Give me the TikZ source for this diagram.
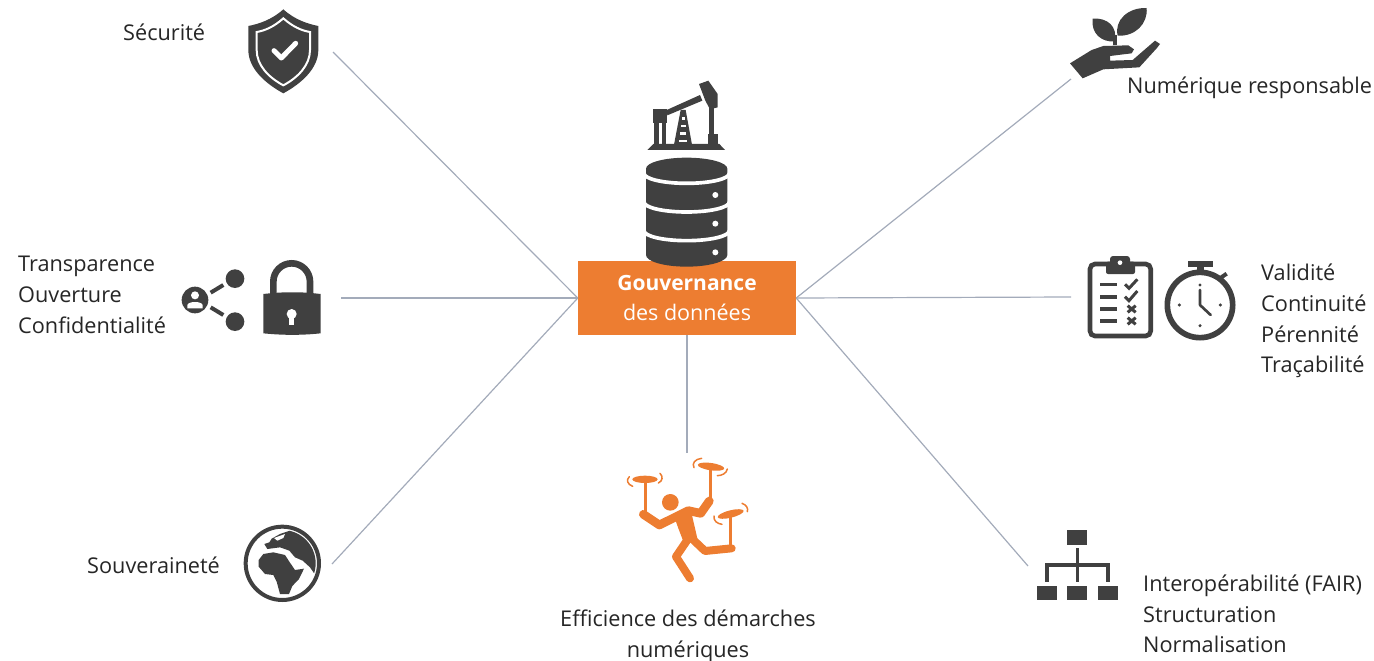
\documentclass[tikz,border=0pt]{standalone}
\usepackage{fontspec}
\setmainfont{Open Sans}
\definecolor{ink}{HTML}{404040}
\definecolor{txt}{HTML}{262626}
\definecolor{org}{HTML}{ED7D31}
\definecolor{wire}{HTML}{A3ABBA}
\tikzset{
  z/.style 2 args={shift={(#1,#2)},x=0.33333pt,y=-0.33333pt},
  wirel/.style={draw=wire,line width=1.2pt},
  lab/.style={text=txt,font=\fontsize{21.7}{30.7}\selectfont,align=left,inner sep=0pt,anchor=west},
  il/.style={draw=ink,line width=#1*0.3333pt},
  wl/.style={draw=white,line width=#1*0.3333pt},
  ol/.style={draw=org,line width=#1*0.3333pt,line cap=round,line join=round},
  sw/.style={draw=org,line width=1.5pt,line cap=round}
}
\begin{document}
\begin{tikzpicture}[x=1pt,y=-1pt]
\useasboundingbox (0,0) rectangle (1374,661);
% central box
\node[fill=org,minimum width=218pt,minimum height=74pt,inner sep=0pt,text=white,align=center,
  font=\fontsize{21.5}{30.5}\selectfont] (gov) at (687,298) {{\fontsize{21}{30.5}\selectfont\bfseries Gouvernance}\\des données};
% connector ends
\coordinate (esec) at (333,52);
\coordinate (etra) at (341,298);
\coordinate (esou) at (332,564);
\coordinate (enum) at (1071,79);
\coordinate (eval) at (1071,297);
\coordinate (eint) at (1028,566);
\coordinate (eeff) at (687,453);
\draw[wirel] (gov.west) -- (esec);
\draw[wirel] (gov.west) -- (etra);
\draw[wirel] (gov.west) -- (esou);
\draw[wirel] (gov.east) -- (enum);
\draw[wirel] (gov.east) -- (eval);
\draw[wirel] (gov.east) -- (eint);
\draw[wirel] (gov.south) -- (eeff);
% labels
\node[lab] (l1) at (123,32) {Sécurité};
\node[lab] (l2) at (18,295) {Transparence\\Ouverture\\Confidentialité};
\node[lab] (l3) at (87,565) {Souveraineté};
\node[lab] (l4) at (1127,87.5) {Numérique responsable};
\node[lab] (l5) at (1261,321) {Validité\\Continuité\\Pérennité\\Traçabilité};
\node[lab] (l6) at (1143,614) {Interopérabilité (FAIR)\\Structuration\\Normalisation};
\node[lab,anchor=center,align=center] (l7) at (688,636) {Efficience des démarches\\numériques};
% pump + database
\begin{scope}[z={560}{70}]
  \fill[ink] (262,240)--(280,222)--(478,222)--(495,240)--cycle;
  \fill[ink] (278,118) rectangle (322,160);
  \fill[ink] (283,160) rectangle (296,225);
  \fill[ink] (305,160) rectangle (318,225);
  \fill[ink] (320,120)--(420,75)--(427,92)--(322,136)--cycle;
  \fill[ink] (417,42)--(445,32)--(473,72)--(473,112)--(450,118)--(436,92)--cycle;
  \fill[ink] (446,110) rectangle (463,195);
  \fill[ink] (443,192) rectangle (475,225);
  \fill[ink] (362,120)--(377,120)--(396,224)--(342,224)--cycle;
  \foreach \yy/\hw in {145/5,168/7,191/9,213/12}
    \fill[white] (369.5-\hw,\yy-4) rectangle (369.5+\hw,\yy+4);
  % database
  \fill[ink] (258,296) arc[start angle=180,end angle=360,x radius=122,y radius=33]
     -- (502,555) arc[start angle=0,end angle=180,x radius=122,y radius=35] -- cycle;
  \foreach \yy in {310,396,482}
    \draw[wl=11] (252,\yy) arc[start angle=180,end angle=0,x radius=128,y radius=30];
  \foreach \yy in {375,461,547}
    \fill[white] (466,\yy) circle[radius=9];
\end{scope}
% shield
\begin{scope}[z={170}{0}]
  \fill[ink] (340,28) .. controls (375,60) and (415,72) .. (445,78) -- (445,150)
     .. controls (445,205) and (395,250) .. (340,280)
     .. controls (285,250) and (235,205) .. (235,150) -- (235,78)
     .. controls (265,72) and (305,60) .. (340,28) -- cycle;
  \draw[wl=6] (340,55) .. controls (368,80) and (395,92) .. (420,96) -- (420,150)
     .. controls (420,195) and (385,232) .. (340,256)
     .. controls (295,232) and (260,195) .. (260,150) -- (260,96)
     .. controls (285,92) and (312,80) .. (340,55) -- cycle;
  \draw[wl=15,line cap=round,line join=round] (312,152)--(334,174)--(377,130);
\end{scope}
% share + lock
\begin{scope}[z={170}{250}]
  \fill[ink] (75,150) circle[radius=40];
  \fill[white] (75,136) circle[radius=12];
  \fill[white] (52,175) -- (52,165) .. controls (55,153) and (95,153) .. (98,165) -- (98,175) -- cycle;
  \fill[ink] (195,86) circle[radius=28];
  \fill[ink] (195,215) circle[radius=28];
  \draw[il=12] (122,128)--(160,105);
  \draw[il=12] (122,172)--(160,195);
  \draw[il=20] (310,135) -- (310,95) arc[start angle=180,end angle=360,radius=55] -- (420,135);
  \fill[ink] (280,132) .. controls (340,125) and (395,125) .. (452,132) -- (452,250) .. controls (395,256) and (340,256) .. (280,250) -- cycle;
  \fill[white] (365,192) circle[radius=15];
  \fill[white] (358,192) rectangle (372,225);
\end{scope}
% globe
\begin{scope}[z={230}{510}]
  \draw[il=12] (157,160) circle[radius=110];
  \begin{scope}
    \clip (157,160) circle[radius=100];
    \fill[ink] (86,150)--(100,132)--(130,127)--(165,135)--(178,155)--(195,180)--(222,176)--(207,207)--(187,228)--(177,252)--(150,252)--(140,215)--(130,195)--(105,192)--(86,170)--cycle;
    \fill[ink] (125,86)--(150,72)--(185,60)--(280,50)--(280,165)--(258,198)--(240,172)--(218,152)--(195,142)--(178,122)--(150,112)--(112,117)--(103,102)--(118,97)--cycle;
    \fill[white] (132,84)--(165,72)--(160,84)--(142,92)--cycle;
  \end{scope}
\end{scope}
% juggler
\begin{scope}[z={610}{445}]
  \fill[org] (181,172) circle[radius=25];
  \draw[ol=26] (100,208)--(148,240)--(235,197)--(272,205)--(298,168);
  \fill[org] (190,208)--(240,185)--(262,280)--(225,302)--(205,250)--cycle;
  \draw[ol=24] (232,285)--(198,335)--(240,400);
  \draw[ol=24] (245,280)--(285,318)--(365,310);
  \draw[ol=9] (105,205)--(105,110);
  \draw[ol=9] (301,165)--(301,70);
  \draw[ol=9] (360,305)--(360,215);
  \fill[org] (105,103) ellipse[x radius=38,y radius=11];
  \fill[org,rotate around={-8:(303,65)}] (303,65) ellipse[x radius=40,y radius=11];
  \fill[org,rotate around={14:(362,207)}] (362,207) ellipse[x radius=40,y radius=11];
  \draw[sw] (58,95) .. controls (48,105) and (52,118) .. (68,124);
  \draw[sw] (150,85) .. controls (160,95) and (158,108) .. (145,114);
  \draw[sw] (275,40) .. controls (255,42) and (245,55) .. (252,68);
  \draw[sw] (352,72) .. controls (350,85) and (335,92) .. (322,92);
  \draw[sw] (312,213) .. controls (310,228) and (322,236) .. (336,238);
  \draw[sw] (396,175) .. controls (410,180) and (415,190) .. (412,200);
\end{scope}
% hand + plant
\begin{scope}[z={1060}{0}]
  \fill[ink] (30,190)--(95,150)--(130,138)--(205,136)--(222,148)--(215,160)--(150,168)--(150,182)--(218,180)--(285,122)--(300,132)--(290,145)--(238,202)--(130,208)--(68,235)--cycle;
  \fill[ink] (160,135) rectangle (172,105);
  \fill[ink] (164,124) .. controls (125,128) and (92,100) .. (98,56) .. controls (142,52) and (174,80) .. (164,124) -- cycle;
  \fill[ink] (173,107) .. controls (162,60) and (205,22) .. (260,24) .. controls (264,72) and (225,110) .. (173,107) -- cycle;
\end{scope}
% clipboard + stopwatch
\begin{scope}[z={1080}{250}]
  \draw[il=14,rounded corners=5pt] (30,42) rectangle (212,258);
  \fill[ink,rounded corners=2pt] (78,35) rectangle (165,72);
  \fill[ink,rounded corners=3pt] (90,18) rectangle (150,45);
  \fill[white] (120,38) circle[radius=7];
  \foreach \yy in {103,141,177,213}
    \draw[il=11] (60,\yy)--(112,\yy);
  \draw[il=9] (135,103)--(147,115)--(172,88);
  \draw[il=9] (135,140)--(147,152)--(172,123);
  \draw[il=9] (143,167)--(167,187) (143,187)--(167,167);
  \draw[il=9] (143,203)--(167,223) (143,223)--(167,203);
  \draw[il=17] (360,165) circle[radius=98];
  \fill[ink] (323,33) rectangle (398,50);
  \fill[ink] (350,50) rectangle (372,68);
  \draw[il=12] (424,82)--(440,71);
  \draw[il=8,line cap=round,line join=round] (360,120)--(360,165)--(392,195);
  \foreach \a/\b in {360/105,360/227,298/165,421/165}
    \fill[ink] (\a,\b) circle[radius=5];
\end{scope}
% hierarchy
\begin{scope}[z={1025}{520}]
  \fill[ink] (127,30) rectangle (187,75);
  \fill[ink] (35,197) rectangle (97,240);
  \fill[ink] (127,197) rectangle (187,240);
  \fill[ink] (218,197) rectangle (278,240);
  \draw[il=11] (157,85)--(157,185);
  \draw[il=11] (65,185)--(65,135)--(248,135)--(248,185);
\end{scope}
\end{tikzpicture}
\end{document}
